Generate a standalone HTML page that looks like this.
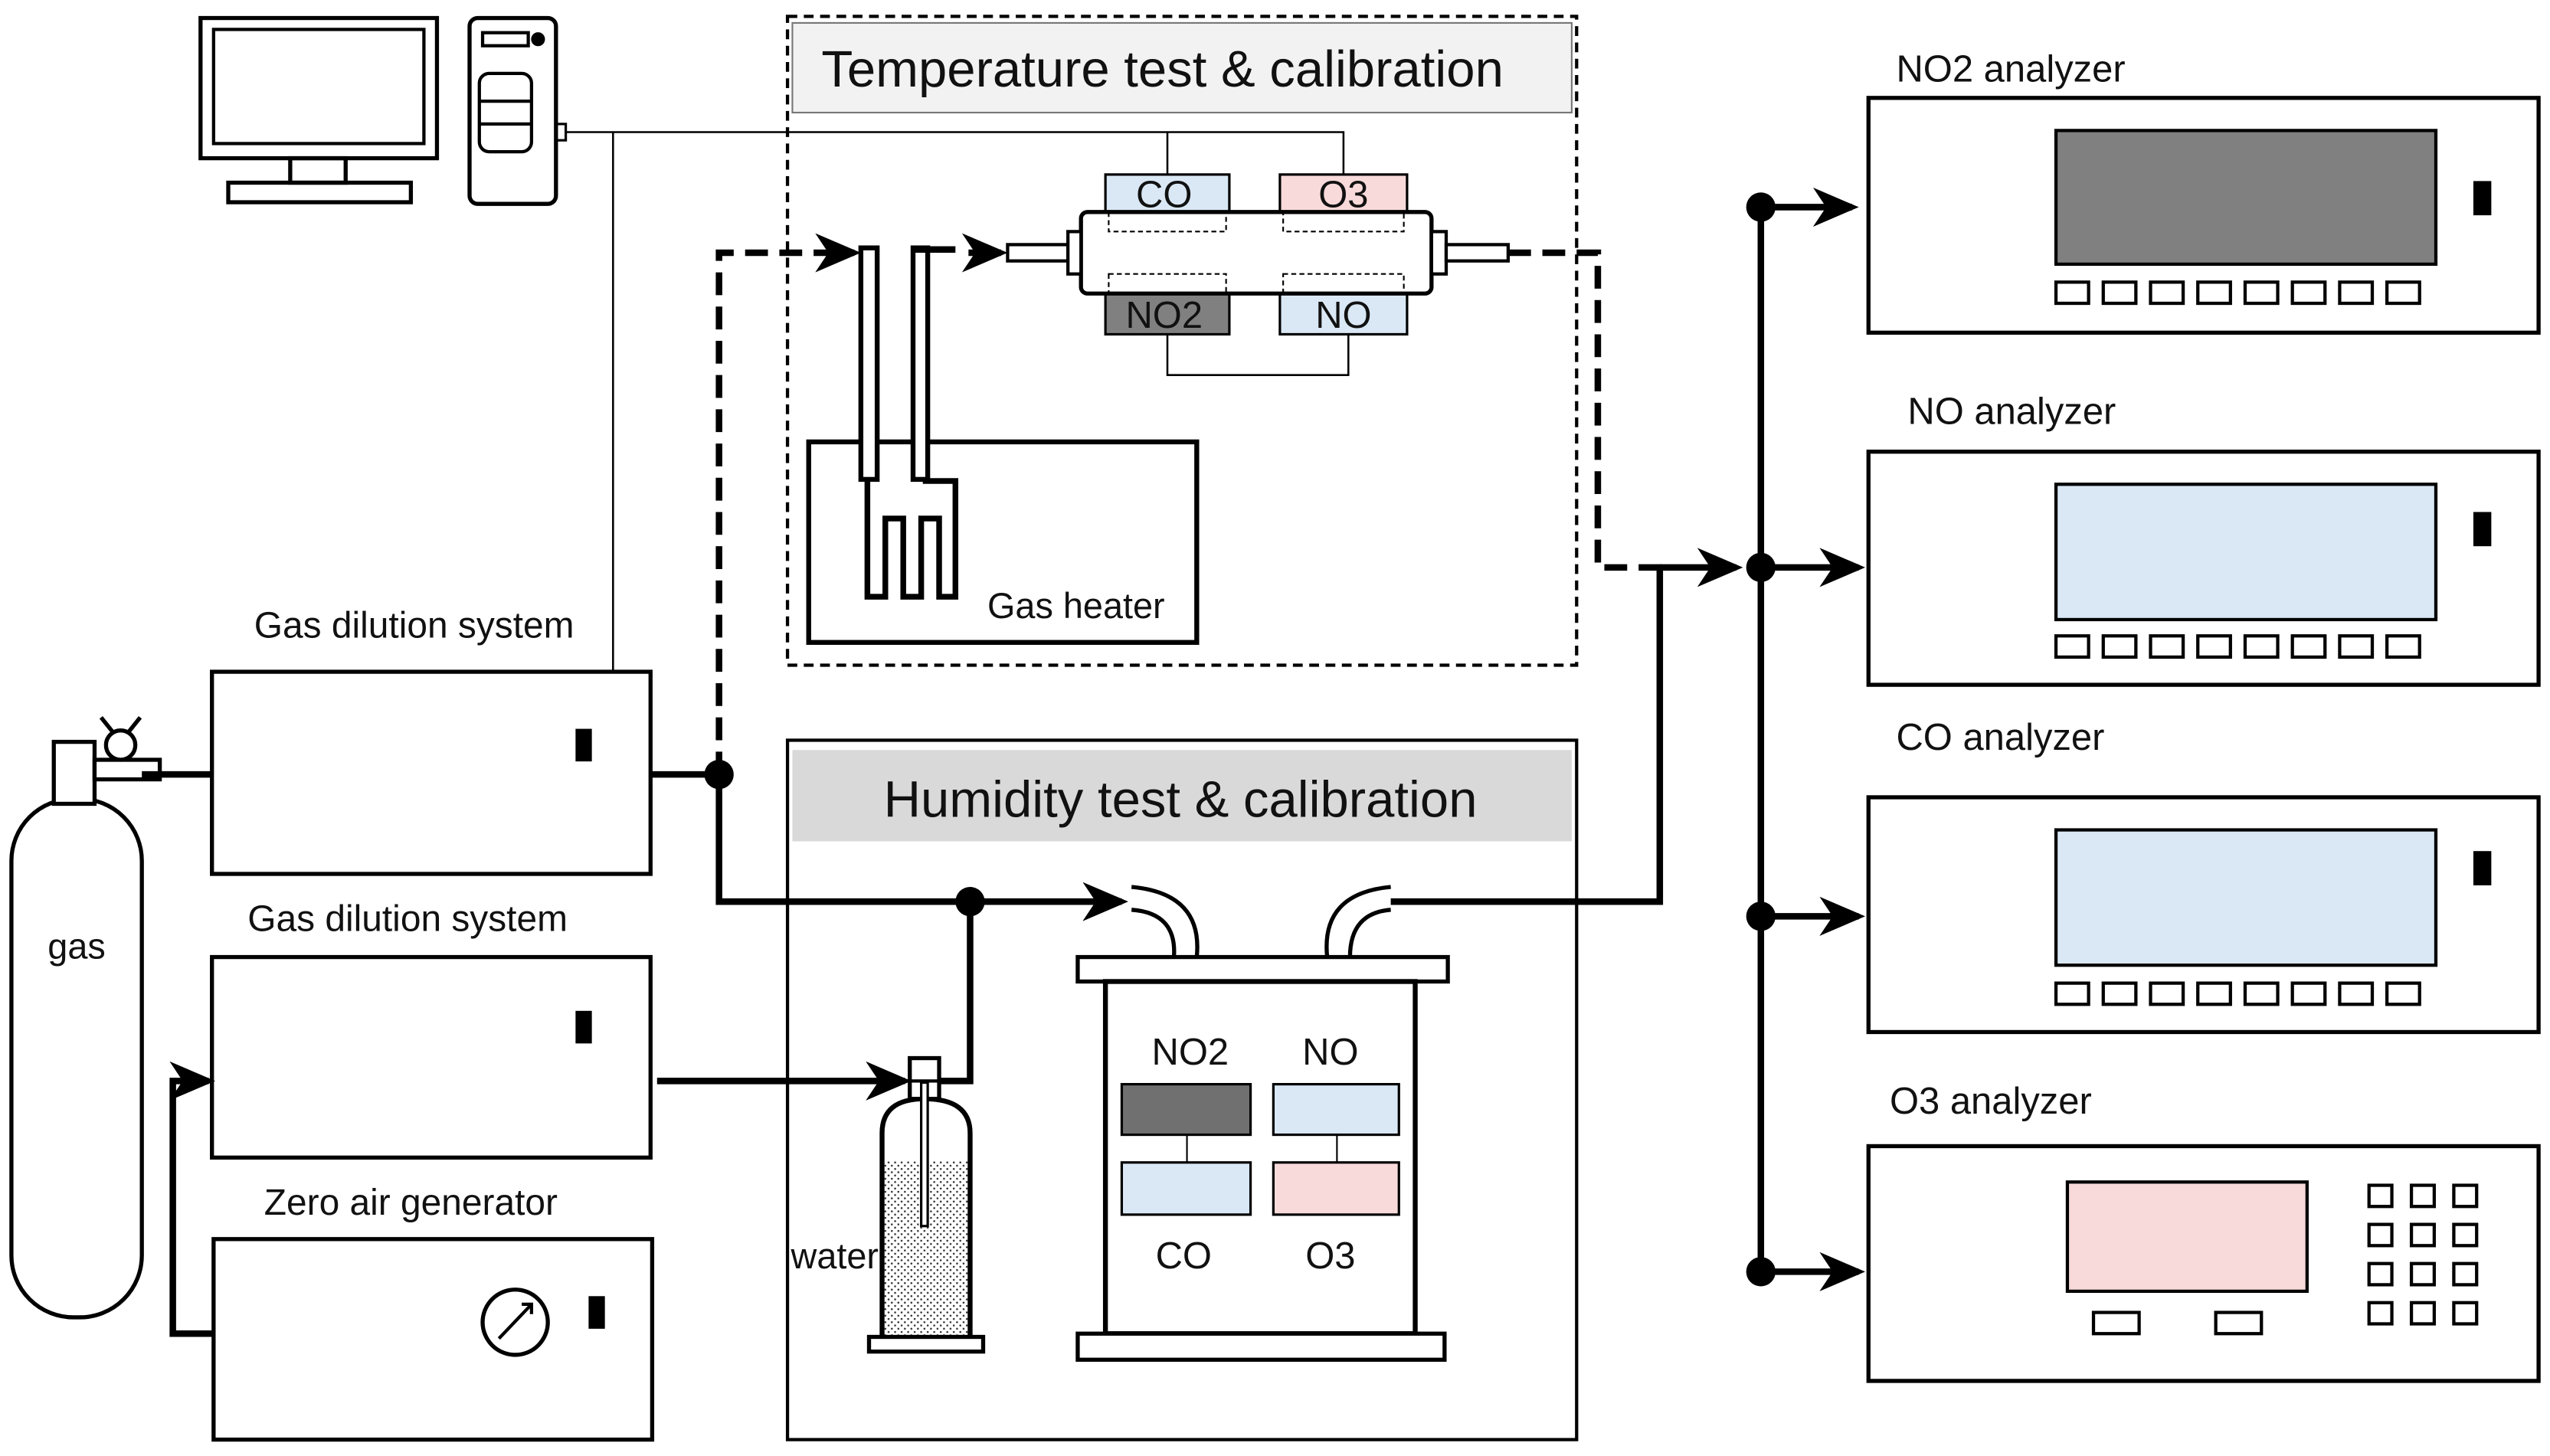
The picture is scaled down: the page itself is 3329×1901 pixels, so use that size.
<!DOCTYPE html>
<html><head><meta charset="utf-8"><style>html,body{margin:0;padding:0;background:#fff}svg{display:block}text{font-family:"Liberation Sans",Arial,sans-serif;fill:#111}</style></head><body>
<svg width="3329" height="1901" viewBox="0 0 1564 893" xmlns="http://www.w3.org/2000/svg">
<defs>
<marker id="ar" markerWidth="7" markerHeight="6" refX="6" refY="3" orient="auto" markerUnits="strokeWidth"><path d="M0,0 L7,3 L0,6 L2,3 Z" fill="#000"/></marker>
<pattern id="dots" width="4" height="4" patternUnits="userSpaceOnUse"><circle cx="1" cy="1" r="0.6" fill="#333"/><circle cx="3" cy="3" r="0.6" fill="#333"/></pattern>
</defs>
<g fill="none" stroke="#000" stroke-width="2.5">
<rect x="123" y="11" width="145" height="86"/><rect x="131" y="18" width="129" height="70" stroke-width="2"/>
<rect x="178" y="97" width="34" height="15"/><rect x="140" y="112" width="112" height="12"/>
<rect x="288" y="11" width="53" height="114" rx="5"/><rect x="296" y="20" width="28" height="8" stroke-width="2"/><circle cx="330" cy="24" r="3" fill="#000"/>
<rect x="294" y="45" width="32" height="48" rx="6" stroke-width="2"/><line x1="294" y1="62" x2="326" y2="62" stroke-width="2"/><line x1="294" y1="76" x2="326" y2="76" stroke-width="2"/>
<rect x="341" y="76" width="6" height="10" stroke-width="1.5"/>
</g>
<g fill="none" stroke="#000" stroke-width="1.2">
<polyline points="347,81 824,81 824,107"/><line x1="716" y1="81" x2="716" y2="107"/><line x1="376" y1="81" x2="376" y2="412"/>
<polyline points="716,205 716,230 827,230 827,205"/>
</g>
<rect x="483" y="10" width="484" height="398" fill="none" stroke="#000" stroke-width="2" stroke-dasharray="6,4"/>
<rect x="486" y="14" width="478" height="55" fill="#f2f2f2" stroke="#777" stroke-width="1"/>
<text x="713" y="53" font-size="31.5" text-anchor="middle">Temperature test &amp; calibration</text>
<rect x="678" y="107" width="76" height="23" fill="#dae8f5" stroke="#000" stroke-width="1.5"/>
<rect x="785" y="107" width="78" height="23" fill="#f8dada" stroke="#000" stroke-width="1.5"/>
<rect x="678" y="180" width="76" height="25" fill="#808080" stroke="#000" stroke-width="1.5"/>
<rect x="785" y="180" width="78" height="25" fill="#dae8f5" stroke="#000" stroke-width="1.5"/>
<text x="714" y="127" font-size="23" text-anchor="middle">CO</text><text x="824" y="127" font-size="23" text-anchor="middle">O3</text>
<text x="714" y="201" font-size="23" text-anchor="middle">NO2</text><text x="824" y="201" font-size="23" text-anchor="middle">NO</text>
<rect x="663" y="130" width="215" height="50" rx="4" fill="#fff" stroke="#000" stroke-width="2.5"/>
<g fill="none" stroke="#000" stroke-width="1" stroke-dasharray="3,2"><rect x="680" y="130" width="72" height="12"/><rect x="787" y="130" width="74" height="12"/><rect x="680" y="168" width="72" height="12"/><rect x="787" y="168" width="74" height="12"/></g>
<g fill="#fff" stroke="#000" stroke-width="2"><rect x="618" y="150" width="37" height="10"/><rect x="655" y="142" width="8" height="26"/><rect x="878" y="142" width="9" height="26"/><rect x="887" y="150" width="38" height="10"/></g>
<rect x="496" y="271" width="238" height="123" fill="none" stroke="#000" stroke-width="3"/>
<text x="660" y="379" font-size="22" text-anchor="middle">Gas heater</text>
<path d="M532,294 V366 H543 V318 H554 V366 H565 V318 H576 V366 H586 V295 H566" fill="none" stroke="#000" stroke-width="3.5"/>
<rect x="528" y="152" width="10" height="142" fill="#fff" stroke="#000" stroke-width="3"/>
<rect x="560" y="152" width="9" height="142" fill="#fff" stroke="#000" stroke-width="3"/>
<line x1="560" y1="153" x2="586" y2="153" stroke="#000" stroke-width="4"/>
<g fill="none" stroke="#000" stroke-width="4" stroke-dasharray="14,7">
<polyline points="441,475 441,155 524,155" marker-end="url(#ar)"/>
<polyline points="594,155 614,155" stroke-dasharray="none" marker-end="url(#ar)"/>
<polyline points="925,155 980,155 980,348 1020,348"/>
</g>
<line x1="1018" y1="348" x2="1065" y2="348" stroke="#000" stroke-width="4" marker-end="url(#ar)"/>
<g fill="#fff" stroke="#000" stroke-width="2.5">
<rect x="130" y="412" width="269" height="124"/><rect x="130" y="587" width="269" height="123"/><rect x="131" y="760" width="269" height="123"/>
<rect x="7" y="490" width="80" height="318" rx="38"/><rect x="33" y="455" width="25" height="38"/>
<rect x="58" y="466" width="40" height="12"/><circle cx="74" cy="457" r="9"/>
<path d="M62,440 L70,450 M86,440 L78,450" fill="none"/>
<circle cx="316" cy="811" r="20"/>
</g>
<path d="M306,821 L326,800 M320,800 H326 V806" fill="none" stroke="#000" stroke-width="2"/>
<rect x="353" y="447" width="10" height="20" fill="#000"/><rect x="353" y="620" width="10" height="20" fill="#000"/><rect x="361" y="795" width="10" height="20" fill="#000"/>
<text x="254" y="391" font-size="22.5" text-anchor="middle">Gas dilution system</text>
<text x="250" y="571" font-size="22.5" text-anchor="middle">Gas dilution system</text>
<text x="252" y="745" font-size="22.5" text-anchor="middle">Zero air generator</text>
<text x="47" y="588" font-size="22" text-anchor="middle">gas</text>
<g fill="none" stroke="#000" stroke-width="4">
<line x1="87" y1="475" x2="130" y2="475"/><line x1="399" y1="475" x2="441" y2="475"/>
<polyline points="441,475 441,553 688,553" marker-end="url(#ar)"/>
<polyline points="595,553 595,663 576,663"/>
<line x1="403" y1="663" x2="555" y2="663" marker-end="url(#ar)"/>
<polyline points="131,818 106,818 106,663 128,663" marker-end="url(#ar)"/>
<polyline points="853,553 1018,553 1018,348"/>
<line x1="1080" y1="127" x2="1080" y2="780"/>
<line x1="1080" y1="127" x2="1136" y2="127" marker-end="url(#ar)"/>
<line x1="1080" y1="348" x2="1140" y2="348" marker-end="url(#ar)"/>
<line x1="1080" y1="562" x2="1140" y2="562" marker-end="url(#ar)"/>
<line x1="1080" y1="780" x2="1140" y2="780" marker-end="url(#ar)"/>
</g>
<g fill="#000"><circle cx="441" cy="475" r="9"/><circle cx="595" cy="553" r="9"/><circle cx="1080" cy="127" r="9"/><circle cx="1080" cy="348" r="9"/><circle cx="1080" cy="562" r="9"/><circle cx="1080" cy="780" r="9"/></g>
<rect x="483" y="454" width="484" height="429" fill="none" stroke="#000" stroke-width="2"/>
<rect x="486" y="460" width="478" height="56" fill="#d9d9d9"/>
<text x="724" y="501" font-size="31.5" text-anchor="middle">Humidity test &amp; calibration</text>
<rect x="542" y="712" width="53" height="108" fill="url(#dots)"/>
<path d="M541,820 V695 Q541,674 567,674 Q595,674 595,695 V820" fill="none" stroke="#000" stroke-width="3"/>
<rect x="558" y="649" width="18" height="25" fill="#fff" stroke="#000" stroke-width="2.5"/>
<line x1="555" y1="663" x2="576" y2="663" stroke="#000" stroke-width="2"/>
<rect x="565" y="664" width="4" height="88" fill="#fff" stroke="#000" stroke-width="1.5"/>
<rect x="533" y="820" width="70" height="9" fill="#fff" stroke="#000" stroke-width="2.5"/>
<text x="512" y="778" font-size="22" text-anchor="middle">water</text>
<rect x="661" y="587" width="227" height="15" fill="#fff" stroke="#000" stroke-width="2.5"/>
<rect x="678" y="602" width="190" height="216" fill="#fff" stroke="#000" stroke-width="3"/>
<rect x="661" y="818" width="225" height="16" fill="#fff" stroke="#000" stroke-width="2.5"/>
<path d="M694,544 Q738,548 734,587 M694,558 Q722,560 720,587" fill="none" stroke="#000" stroke-width="2.5"/>
<path d="M853,544 Q810,548 814,587 M853,558 Q828,560 828,587" fill="none" stroke="#000" stroke-width="2.5"/>
<rect x="688" y="665" width="79" height="31" fill="#707070" stroke="#000" stroke-width="1.5"/>
<rect x="781" y="665" width="77" height="31" fill="#dae8f5" stroke="#000" stroke-width="1.5"/>
<rect x="688" y="713" width="79" height="32" fill="#dae8f5" stroke="#000" stroke-width="1.5"/>
<rect x="781" y="713" width="77" height="32" fill="#f8dada" stroke="#000" stroke-width="1.5"/>
<g stroke="#000" stroke-width="1"><line x1="728" y1="696" x2="728" y2="713"/><line x1="820" y1="696" x2="820" y2="713"/></g>
<text x="730" y="653" font-size="23" text-anchor="middle">NO2</text><text x="816" y="653" font-size="23" text-anchor="middle">NO</text>
<text x="726" y="778" font-size="23" text-anchor="middle">CO</text><text x="816" y="778" font-size="23" text-anchor="middle">O3</text>
<g fill="none" stroke="#000" stroke-width="2.5">
<rect x="1146" y="60" width="411" height="144"/><rect x="1146" y="277" width="411" height="143"/><rect x="1146" y="489" width="411" height="144"/><rect x="1146" y="703" width="411" height="144"/>
</g>
<rect x="1261" y="80" width="233" height="82" fill="#808080" stroke="#000" stroke-width="2"/>
<rect x="1261" y="297" width="233" height="83" fill="#dae8f5" stroke="#000" stroke-width="2"/>
<rect x="1261" y="509" width="233" height="83" fill="#dae8f5" stroke="#000" stroke-width="2"/>
<rect x="1268" y="725" width="147" height="67" fill="#f8dada" stroke="#000" stroke-width="2"/>
<rect x="1517" y="111" width="11" height="21" fill="#000"/><rect x="1517" y="314" width="11" height="21" fill="#000"/><rect x="1517" y="522" width="11" height="21" fill="#000"/>
<g fill="none" stroke="#000" stroke-width="2">
<rect x="1261" y="173" width="20" height="13"/><rect x="1290" y="173" width="20" height="13"/><rect x="1319" y="173" width="20" height="13"/><rect x="1348" y="173" width="20" height="13"/><rect x="1377" y="173" width="20" height="13"/><rect x="1406" y="173" width="20" height="13"/><rect x="1435" y="173" width="20" height="13"/><rect x="1464" y="173" width="20" height="13"/>
<rect x="1261" y="390" width="20" height="13"/><rect x="1290" y="390" width="20" height="13"/><rect x="1319" y="390" width="20" height="13"/><rect x="1348" y="390" width="20" height="13"/><rect x="1377" y="390" width="20" height="13"/><rect x="1406" y="390" width="20" height="13"/><rect x="1435" y="390" width="20" height="13"/><rect x="1464" y="390" width="20" height="13"/>
<rect x="1261" y="603" width="20" height="13"/><rect x="1290" y="603" width="20" height="13"/><rect x="1319" y="603" width="20" height="13"/><rect x="1348" y="603" width="20" height="13"/><rect x="1377" y="603" width="20" height="13"/><rect x="1406" y="603" width="20" height="13"/><rect x="1435" y="603" width="20" height="13"/><rect x="1464" y="603" width="20" height="13"/>
<rect x="1284" y="805" width="28" height="13"/><rect x="1359" y="805" width="28" height="13"/>
<rect x="1453" y="727" width="14" height="13"/><rect x="1479" y="727" width="14" height="13"/><rect x="1505" y="727" width="14" height="13"/>
<rect x="1453" y="751" width="14" height="13"/><rect x="1479" y="751" width="14" height="13"/><rect x="1505" y="751" width="14" height="13"/>
<rect x="1453" y="775" width="14" height="13"/><rect x="1479" y="775" width="14" height="13"/><rect x="1505" y="775" width="14" height="13"/>
<rect x="1453" y="799" width="14" height="13"/><rect x="1479" y="799" width="14" height="13"/><rect x="1505" y="799" width="14" height="13"/>
</g>
<text x="1163" y="50" font-size="23">NO2 analyzer</text>
<text x="1170" y="260" font-size="23">NO analyzer</text>
<text x="1163" y="460" font-size="23">CO analyzer</text>
<text x="1159" y="683" font-size="23">O3 analyzer</text>
</svg>
</body></html>
